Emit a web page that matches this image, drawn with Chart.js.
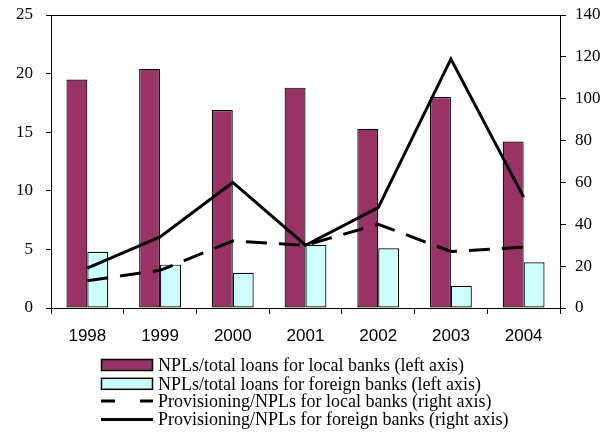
<!DOCTYPE html>
<html>
<head>
<meta charset="utf-8">
<script src="https://cdn.jsdelivr.net/npm/chart.js@4.4.0/dist/chart.umd.min.js"></script>
<style>
  html, body { margin: 0; padding: 0; background: #ffffff; }
  #wrap { width: 612px; height: 434px; position: relative; }
</style>
</head>
<body>
<div id="wrap"><canvas id="chart" width="612" height="434"></canvas></div>
<script>
// Years on the category axis
const years = ['1998', '1999', '2000', '2001', '2002', '2003', '2004'];

// NPLs / total loans (%), left axis
const nplLocal   = [19.5, 20.4, 16.9, 18.8, 15.3, 18.0, 14.2];
const nplForeign = [4.8, 3.7, 3.0, 5.4, 5.1, 1.9, 3.9];

// Provisioning / NPLs (%), right axis
const provLocal   = [13, 18, 32, 30, 40, 27, 29];
const provForeign = [19, 34, 60, 30, 48, 119, 53];

// Axis tick values
const leftTicks  = [0, 5, 10, 15, 20, 25];
const rightTicks = [0, 20, 40, 60, 80, 100, 120, 140];

const serif = '"Liberation Serif", "Times New Roman", serif';
const sans  = '"Liberation Sans", Arial, sans-serif';

// Stacked legend drawn under the plot, one entry per row
const blockLegend = {
  id: 'blockLegend',
  afterDraw(chart) {
    const ctx = chart.ctx;
    const x0 = 101, x1 = 153, textX = 158;
    const rows = [365, 383.8, 401, 419.5];
    ctx.save();
    ctx.font = '18px ' + serif;
    ctx.textBaseline = 'middle';
    ctx.textAlign = 'left';
    chart.data.datasets.forEach((ds, i) => {
      const y = rows[i];
      if (ds.type === 'bar') {
        ctx.fillStyle = ds.backgroundColor;
        ctx.fillRect(x0, y - 5.5, x1 - x0, 11);
        ctx.strokeStyle = '#000';
        ctx.lineWidth = 1.5;
        ctx.strokeRect(x0 + 0.5, y - 5.5, x1 - x0 - 1, 11);
      } else {
        ctx.strokeStyle = '#000';
        ctx.lineWidth = 3;
        ctx.setLineDash(ds.borderDash && ds.borderDash.length ? [14, 25] : []);
        ctx.beginPath();
        ctx.moveTo(x0, y);
        ctx.lineTo(x1, y);
        ctx.stroke();
        ctx.setLineDash([]);
      }
      ctx.fillStyle = '#000';
      ctx.fillText(ds.label, textX, y + 1);
    });
    ctx.restore();
  }
};

// Closing line along the top of the plot area
const topBorder = {
  id: 'topBorder',
  afterDraw(chart) {
    const a = chart.chartArea, ctx = chart.ctx;
    ctx.save();
    ctx.strokeStyle = '#000';
    ctx.lineWidth = 1;
    ctx.beginPath();
    ctx.moveTo(a.left, a.top + 0.5);
    ctx.lineTo(a.right, a.top + 0.5);
    ctx.stroke();
    ctx.restore();
  }
};

// Vertical axes: fixed width and no extra label padding above/below
function fitVertical(width) {
  return function (s) {
    s.width = width;
    s.paddingTop = 4;
    s.paddingBottom = 4;
  };
}

new Chart(document.getElementById('chart'), {
  data: {
    labels: years,
    datasets: [
      {
        type: 'bar',
        label: 'NPLs/total loans for local banks (left axis)',
        data: nplLocal,
        yAxisID: 'y',
        backgroundColor: '#993366',
        borderColor: '#000000',
        borderWidth: 1.2,
        borderSkipped: false,
        order: 2
      },
      {
        type: 'bar',
        label: 'NPLs/total loans for foreign banks (left axis)',
        data: nplForeign,
        yAxisID: 'y',
        backgroundColor: '#CCFFFF',
        borderColor: '#000000',
        borderWidth: 1.2,
        borderSkipped: false,
        order: 2
      },
      {
        type: 'line',
        label: 'Provisioning/NPLs for local banks (right axis)',
        data: provLocal,
        yAxisID: 'y1',
        borderColor: '#000000',
        borderWidth: 3,
        borderDash: [21, 12],
        pointRadius: 0,
        tension: 0,
        fill: false,
        order: 1
      },
      {
        type: 'line',
        label: 'Provisioning/NPLs for foreign banks (right axis)',
        data: provForeign,
        yAxisID: 'y1',
        borderColor: '#000000',
        borderWidth: 3,
        pointRadius: 0,
        tension: 0,
        fill: false,
        order: 0
      }
    ]
  },
  options: {
    responsive: false,
    animation: false,
    layout: { padding: { top: 15, left: 0, right: 0, bottom: 86 } },
    datasets: {
      bar: { categoryPercentage: 0.575, barPercentage: 1.0 }
    },
    plugins: {
      legend: { display: false },
      tooltip: { enabled: false }
    },
    scales: {
      x: {
        grid: { display: true, drawOnChartArea: false, tickLength: 6, color: '#000', tickColor: '#000' },
        border: { display: true, color: '#000', width: 1 },
        ticks: { color: '#000', font: { family: sans, size: 17 }, padding: 12, maxRotation: 0 },
        afterFit(s) { s.height = 40; }
      },
      y: {
        position: 'left',
        min: 0, max: 25,
        afterBuildTicks(s) { s.ticks = leftTicks.map(v => ({ value: v })); },
        grid: { display: true, drawOnChartArea: false, tickLength: 5, color: '#000', tickColor: '#000' },
        border: { display: true, color: '#000', width: 1 },
        ticks: { color: '#000', font: { family: serif, size: 17 }, padding: 13 },
        afterFit: fitVertical(51)
      },
      y1: {
        position: 'right',
        min: 0, max: 140,
        afterBuildTicks(s) { s.ticks = rightTicks.map(v => ({ value: v })); },
        grid: { display: true, drawOnChartArea: false, tickLength: 6, color: '#000', tickColor: '#000' },
        border: { display: true, color: '#000', width: 1 },
        ticks: { color: '#000', font: { family: serif, size: 17 }, padding: 9 },
        afterFit: fitVertical(52)
      }
    }
  },
  plugins: [topBorder, blockLegend]
});
</script>
</body>
</html>
